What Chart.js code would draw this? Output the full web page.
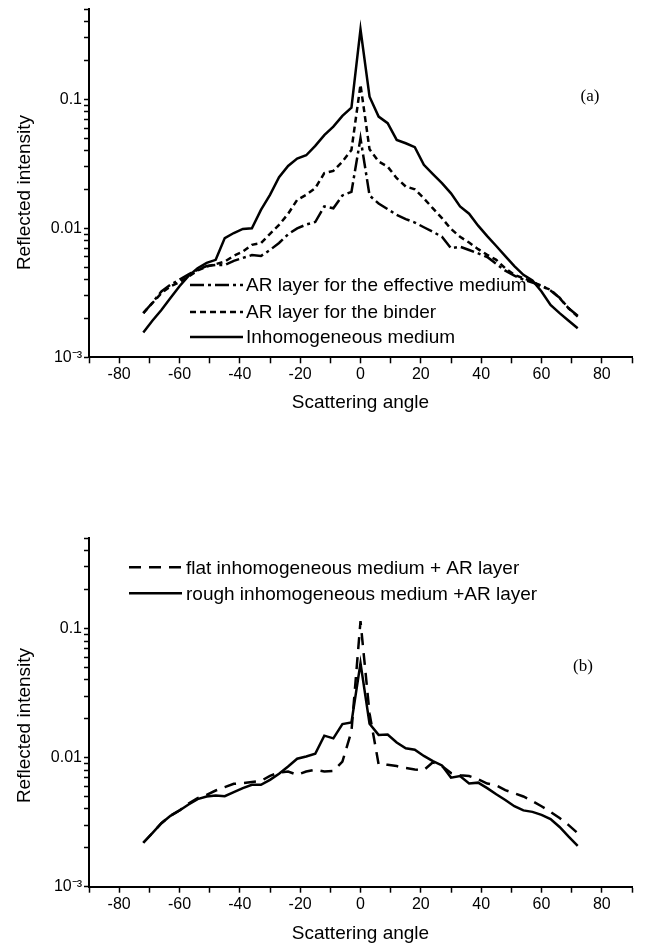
<!DOCTYPE html>
<html><head><meta charset="utf-8">
<script src="https://cdn.jsdelivr.net/npm/chart.js@4.4.1/dist/chart.umd.min.js"></script>
<style>
html,body{margin:0;padding:0;background:#fff;}
body{width:646px;height:948px;position:relative;overflow:hidden;}
canvas{position:absolute;left:0;}
#ca{top:0;}
#cb{top:470px;}
</style></head><body>
<canvas id="ca" width="646" height="470"></canvas>
<canvas id="cb" width="646" height="478"></canvas>
<script>
// Scattering angles (degrees)
const angles = [-72,-69,-66,-63,-60,-57,-54,-51,-48,-45,-42,-39,-36,-33,-30,-27,-24,-21,-18,-15,-12,-9,-6,-3,0,3,6,9,12,15,18,21,24,27,30,33,36,39,42,45,48,51,54,57,60,63,66,69,72];

// Panel (a)
const effMedium = [0.0022,0.00265,0.00324,0.00365,0.0040,0.0044,0.00477,0.0051,0.0052,0.0052,0.0056,0.0059,0.0062,0.0061,0.0068,0.0077,0.0090,0.0100,0.0107,0.0112,0.0148,0.0143,0.0180,0.0192,0.050,0.018,0.0156,0.0141,0.0127,0.0118,0.0111,0.0102,0.0094,0.0086,0.0070,0.0072,0.0068,0.0064,0.0060,0.0053,0.0047,0.0043,0.0040,0.0038,0.0036,0.0033,0.0029,0.0024,0.0021];
const binder = [0.0022,0.00263,0.00315,0.00354,0.00383,0.00423,0.00471,0.00506,0.00528,0.00553,0.00612,0.0066,0.00745,0.00768,0.00906,0.01064,0.01295,0.01663,0.0182,0.0205,0.0268,0.0279,0.0329,0.0406,0.13,0.041,0.033,0.0301,0.0245,0.0211,0.0201,0.0171,0.0143,0.0120,0.0099,0.0086,0.00776,0.0069,0.00623,0.0057,0.0049,0.00436,0.0041,0.00387,0.00354,0.00334,0.00288,0.0024,0.00207];
const inhomogeneous = [0.00156,0.00192,0.00233,0.00288,0.00356,0.00428,0.00491,0.0054,0.0057,0.0084,0.0092,0.0099,0.0100,0.0139,0.0182,0.0249,0.0305,0.0348,0.0369,0.0436,0.0528,0.0615,0.0745,0.0864,0.35,0.105,0.0736,0.0654,0.0485,0.0457,0.0426,0.0311,0.0263,0.0224,0.0187,0.0148,0.0130,0.0105,0.0087,0.0073,0.0061,0.0051,0.00436,0.00394,0.00324,0.00255,0.0022,0.00192,0.00168];

// Panel (b)
const flatAR = [0.00219,0.0026,0.0031,0.00355,0.0039,0.0044,0.00486,0.00515,0.00556,0.0059,0.00627,0.00634,0.00646,0.0066,0.00723,0.00767,0.0078,0.00736,0.0078,0.00805,0.0078,0.0079,0.0093,0.016,0.114,0.022,0.0089,0.0088,0.0086,0.0083,0.0081,0.0080,0.0092,0.0086,0.0076,0.0073,0.0072,0.0068,0.0063,0.0061,0.0056,0.0053,0.0050,0.0046,0.0042,0.0038,0.0034,0.0030,0.0026];
const roughAR = [0.00219,0.0026,0.0031,0.00354,0.00389,0.00433,0.00477,0.00499,0.00508,0.00503,0.0054,0.0058,0.00615,0.00615,0.00673,0.0075,0.00854,0.0098,0.0102,0.0107,0.0148,0.0141,0.0182,0.0187,0.054,0.0183,0.0150,0.0151,0.0131,0.0118,0.0115,0.0103,0.0094,0.0087,0.0070,0.0072,0.0063,0.0064,0.0058,0.0052,0.0047,0.0042,0.0039,0.0038,0.0036,0.00334,0.0029,0.00244,0.00207];

// Ticks
const xLabelValues = [-80,-60,-40,-20,0,20,40,60,80];
const xTickLabels = ['-80','-60','-40','-20','0','20','40','60','80'];
const yTickValues = [0.001,0.002,0.003,0.004,0.005,0.006,0.007,0.008,0.009,0.01,0.02,0.03,0.04,0.05,0.06,0.07,0.08,0.09,0.1,0.2,0.3,0.4,0.5];
const yLabelValues = [0.001,0.01,0.1];
const yTickLabels = ['10\u207B\u00B3','0.01','0.1'];

const SANS = '"Liberation Sans", Arial, Helvetica, sans-serif';
const SERIF = '"Liberation Serif", "Times New Roman", serif';

const overlay = {
  id: 'overlay',
  afterDraw(chart, args, opts) {
    const ctx = chart.ctx;
    ctx.save();
    ctx.fillStyle = '#000';
    ctx.font = '19px ' + SANS;
    ctx.textAlign = 'center';
    ctx.textBaseline = 'middle';
    ctx.translate(opts.yTitle.x, opts.yTitle.y);
    ctx.rotate(-Math.PI / 2);
    ctx.fillText(opts.yTitle.text, 0, 0);
    ctx.restore();

    chart.data.datasets.forEach((ds, i) => {
      const y = opts.legend.rows[i];
      ctx.save();
      ctx.strokeStyle = '#000';
      ctx.lineWidth = ds.borderWidth;
      ctx.setLineDash(ds.borderDash || []);
      ctx.beginPath();
      ctx.moveTo(opts.legend.x1, y);
      ctx.lineTo(opts.legend.x2, y);
      ctx.stroke();
      ctx.setLineDash([]);
      ctx.fillStyle = '#000';
      ctx.font = '19px ' + SANS;
      ctx.textAlign = 'left';
      ctx.textBaseline = 'middle';
      ctx.fillText(ds.label, opts.legend.textX, y + 1);
      ctx.restore();
    });

    ctx.save();
    ctx.fillStyle = '#000';
    ctx.font = '17px ' + SERIF;
    ctx.textAlign = 'center';
    ctx.textBaseline = 'middle';
    ctx.fillText(opts.tag.text, opts.tag.x, opts.tag.y);
    ctx.restore();
  }
};

function series(label, values, dash) {
  return {
    label,
    data: angles.map((a, i) => ({x: a, y: values[i]})),
    borderColor: '#000',
    borderWidth: 2.5,
    borderDash: dash,
    pointRadius: 0,
    fill: false,
    tension: 0
  };
}

function makeChart(id, datasets, cfg) {
  return new Chart(document.getElementById(id), {
    type: 'line',
    data: {datasets},
    options: {
      responsive: false,
      animation: false,
      devicePixelRatio: 1,
      layout: {padding: {left: 0, right: 14, top: cfg.top, bottom: 0}},
      plugins: {legend: {display: false}, tooltip: {enabled: false}, overlay: cfg.overlay},
      scales: {
        x: {
          type: 'linear', min: -90, max: 90,
          ticks: {
            stepSize: 10, autoSkip: false, maxRotation: 0, padding: 2, color: '#000',
            font: {family: SANS, size: 16},
            callback: (v) => { const i = xLabelValues.indexOf(v); return i >= 0 ? xTickLabels[i] : ''; }
          },
          grid: {drawOnChartArea: false, drawTicks: true, tickLength: 6, tickColor: '#000', tickWidth: 1.5},
          border: {display: true, color: '#000', width: 2},
          title: {display: true, text: 'Scattering angle', color: '#000', font: {family: SANS, size: 19}, padding: {top: 0, bottom: cfg.titlePad}},
          afterFit: (s) => { s.height = cfg.xHeight; s.paddingLeft = 0; s.paddingRight = 0; }
        },
        y: {
          type: 'logarithmic', min: 0.001, max: 0.5,
          afterBuildTicks: (s) => { s.ticks = yTickValues.map(v => ({value: v})); },
          ticks: {
            autoSkip: false, padding: 2, color: '#000',
            font: {family: SANS, size: 16},
            callback: (v) => {
              const i = yLabelValues.findIndex(t => Math.abs(t - v) / t < 1e-6);
              return i >= 0 ? yTickLabels[i] : '';
            }
          },
          grid: {drawOnChartArea: false, drawTicks: true, tickLength: 5, tickColor: '#000', tickWidth: 1.5},
          border: {display: true, color: '#000', width: 2},
          afterFit: (s) => { s.width = 89; s.paddingTop = 0; s.paddingBottom = 0; }
        }
      }
    },
    plugins: [overlay]
  });
}

makeChart('ca', [
  series('AR layer for the effective medium', effMedium, [14, 4, 3, 4]),
  series('AR layer for the binder', binder, [6, 4]),
  series('Inhomogeneous medium', inhomogeneous, [])
], {
  top: 9.3, xHeight: 112.7, titlePad: 55.6,
  overlay: {
    yTitle: {text: 'Reflected intensity', x: 25, y: 192.5},
    legend: {x1: 190, x2: 243, textX: 246, rows: [285, 312, 337]},
    tag: {text: '(a)', x: 590, y: 97}
  }
});

makeChart('cb', [
  series('flat inhomogeneous medium + AR layer', flatAR, [12, 8]),
  series('rough inhomogeneous medium +AR layer', roughAR, [])
], {
  top: 68.3, xHeight: 61.3, titlePad: 2.6,
  overlay: {
    yTitle: {text: 'Reflected intensity', x: 25, y: 255.5},
    legend: {x1: 129, x2: 182, textX: 186, rows: [97.3, 123.3]},
    tag: {text: '(b)', x: 583, y: 196.7}
  }
});
</script>
</body></html>
